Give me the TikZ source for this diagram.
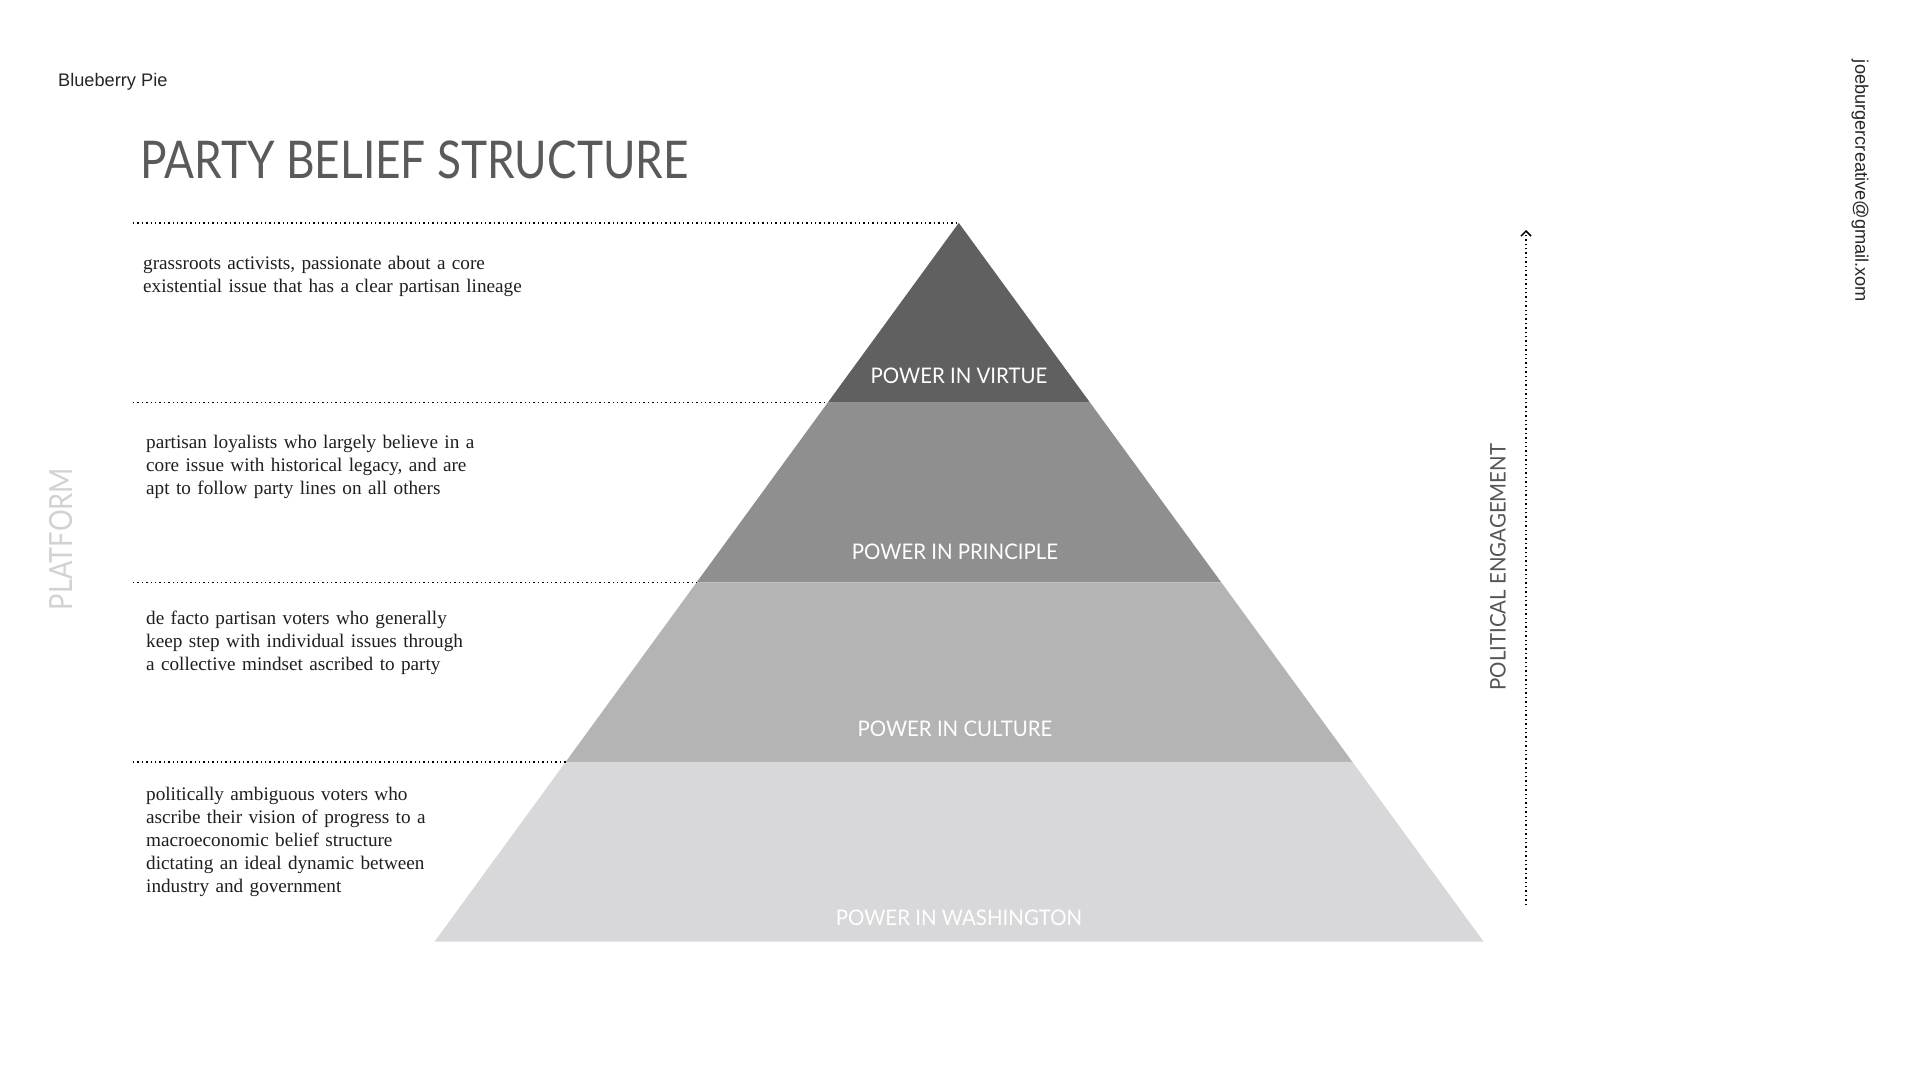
\documentclass[tikz,border=0pt]{standalone}
\usepackage{fontspec}
\setmainfont{Liberation Serif}
\newfontfamily\gill[FakeStretch=0.85]{Lato}
\newfontfamily\gillw[FakeStretch=0.95]{Lato}
\newfontfamily\helv{Liberation Sans}
\usetikzlibrary{arrows.meta,calc}
\definecolor{cvirtue}{HTML}{606060}
\definecolor{cprinciple}{HTML}{8F8F8F}
\definecolor{cculture}{HTML}{B4B4B4}
\definecolor{cwash}{HTML}{D8D8DA}
\definecolor{ctitle}{HTML}{5A5A5A}
\definecolor{cplat}{HTML}{D2D2D2}
\definecolor{cpol}{HTML}{555555}
\begin{document}
\begin{tikzpicture}[x=1pt,y=-1pt,
  desc/.style={anchor=base west, align=left, text width=560pt, inner sep=0pt,
    font=\fontsize{19.2}{23}\selectfont, text=black!88},
  lvl/.style={anchor=base, text=white, inner sep=0pt, font=\gillw\fontsize{21.5}{24}\selectfont},
  guide/.style={draw=black, line width=1.4pt, dash pattern=on 1.4pt off 3pt},
  band/.style={draw=none}]
\useasboundingbox[fill=white] (0,0) rectangle (1920,1080);

% pyramid geometry
\coordinate (apex) at (958.8,222.9);
\coordinate (bl) at (434.6,941.6);
\coordinate (br) at (1483.6,941.6);
\coordinate (l1) at ($(apex)!0.25!(bl)$);
\coordinate (r1) at ($(apex)!0.25!(br)$);
\coordinate (l2) at ($(apex)!0.5!(bl)$);
\coordinate (r2) at ($(apex)!0.5!(br)$);
\coordinate (l3) at ($(apex)!0.75!(bl)$);
\coordinate (r3) at ($(apex)!0.75!(br)$);

\fill[cvirtue] (apex) -- (r1) -- (l1) -- cycle;
\fill[cprinciple] (l1) -- (r1) -- (r2) -- (l2) -- cycle;
\fill[cculture] (l2) -- (r2) -- (r3) -- (l3) -- cycle;
\fill[cwash] (l3) -- (r3) -- (br) -- (bl) -- cycle;

% level labels
\node[lvl] (virtue) at (959,383.5) {POWER IN VIRTUE};
\node[lvl] (principle) at (955,559.5) {POWER IN PRINCIPLE};
\node[lvl] (culture) at (955,736.5) {POWER IN CULTURE};
\node[lvl] (wash) at (959,925.5) {POWER IN WASHINGTON};

% guide lines
\coordinate (gx) at (133,0);
\draw[guide] (apex -| gx) -- (apex);
\draw[guide] (l1 -| gx) -- (l1);
\draw[guide] (l2 -| gx) -- (l2);
\draw[guide] (l3 -| gx) -- (l3);

% descriptions
\node[desc] (d1) at (143,269) {grassroots activists, passionate about a core\\existential issue that has a clear partisan lineage};
\node[desc] (d2) at (146,448) {partisan loyalists who largely believe in a\\core issue with historical legacy, and are\\apt to follow party lines on all others};
\node[desc] (d3) at (146,624) {de facto partisan voters who generally\\keep step with individual issues through\\a collective mindset ascribed to party};
\node[desc] (d4) at (146,800) {politically ambiguous voters who\\ascribe their vision of progress to a\\macroeconomic belief structure\\dictating an ideal dynamic between\\industry and government};

% header texts
\node[anchor=base west, inner sep=0pt, font=\helv\fontsize{18.2}{20}\selectfont, text=black!85] (brand) at (58,86) {Blueberry Pie};
\node[anchor=base west, inner sep=0pt, font=\gill\fontsize{52}{60}\selectfont, text=ctitle] (title) at (140,178) {PARTY BELIEF STRUCTURE};
\node[rotate=-90, inner sep=0pt, font=\helv\fontsize{18.2}{20}\selectfont, text=black!85] (mail) at (1860,181) {joeburgercreative@gmail.xom};

% side labels
\node[rotate=90, inner sep=0pt, font=\gill\fontsize{32}{40}\selectfont, text=cplat] (platform) at (61,539) {PLATFORM};
\node[rotate=90, inner sep=0pt, font=\gillw\fontsize{21.5}{26}\selectfont, text=cpol] (pol) at (1498,567) {POLITICAL ENGAGEMENT};

% engagement arrow
\coordinate (abot) at (1526,905);
\coordinate (atop) at (1526,230);
\draw[guide, -{Straight Barb[length=5pt,width=10pt,line width=1.5pt]}] (abot) -- (atop);
\end{tikzpicture}
\end{document}
